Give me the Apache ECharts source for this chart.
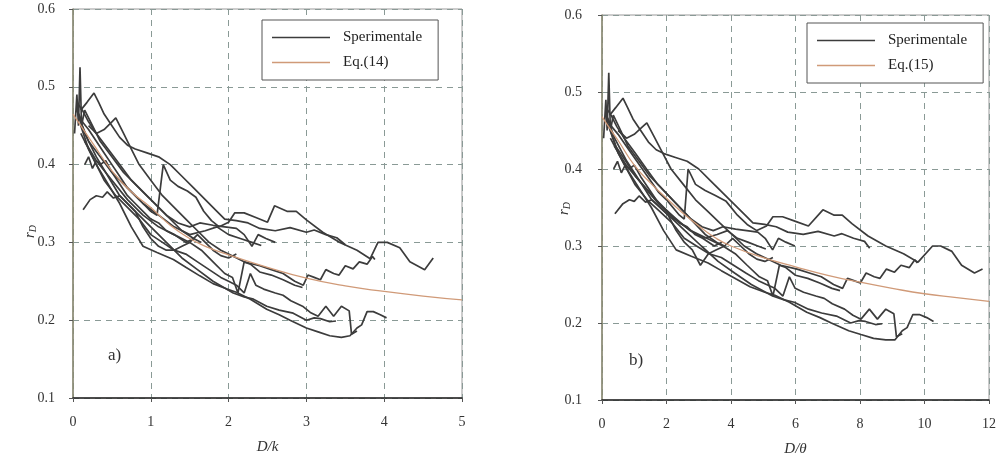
<!DOCTYPE html>
<html>
<head>
<meta charset="utf-8">
<script src="https://cdn.jsdelivr.net/npm/echarts@6/dist/echarts.min.js"></script>
<style>
html,body{margin:0;padding:0;background:#fff;}
#chart{width:1000px;height:464px;}
</style>
</head>
<body>
<div id="chart"></div>
<script>
// ---------- Panel a) : r_D vs D/k ----------
const xTicksA = [0, 1, 2, 3, 4, 5];
const yTicks = [0.1, 0.2, 0.3, 0.4, 0.5, 0.6];

const a1 = [[0.05,0.47],[0.12,0.455],[0.2,0.445],[0.3,0.43],[0.4,0.415],[0.5,0.4],[0.6,0.385],[0.7,0.37],[0.8,0.36],[0.9,0.35],[1.0,0.34],[1.08,0.335],[1.16,0.40],[1.25,0.38],[1.35,0.372],[1.47,0.366],[1.58,0.358],[1.68,0.34],[1.78,0.328],[1.88,0.32],[2.0,0.326],[2.08,0.338],[2.2,0.338],[2.35,0.332],[2.5,0.326],[2.59,0.347],[2.75,0.34],[2.87,0.34],[3.0,0.329],[3.21,0.313],[3.43,0.30],[3.65,0.29],[3.82,0.279],[3.92,0.30],[4.04,0.30],[4.2,0.293],[4.33,0.275],[4.52,0.265],[4.63,0.28]];
const a2 = [[0.1,0.47],[0.18,0.48],[0.27,0.492],[0.33,0.48],[0.4,0.465],[0.5,0.45],[0.6,0.435],[0.7,0.425],[0.8,0.42],[0.95,0.415],[1.1,0.41],[1.25,0.4],[1.4,0.385],[1.55,0.37],[1.7,0.355],[1.85,0.34],[1.95,0.33],[2.1,0.328],[2.25,0.325],[2.4,0.318],[2.6,0.315],[2.79,0.319],[3.0,0.313],[3.1,0.316],[3.25,0.31],[3.39,0.306],[3.5,0.297]];
const a3 = [[0.2,0.45],[0.3,0.44],[0.4,0.445],[0.5,0.455],[0.55,0.46],[0.65,0.44],[0.75,0.42],[0.85,0.40],[1.0,0.38],[1.15,0.36],[1.3,0.345],[1.45,0.33],[1.6,0.315],[1.75,0.30],[1.9,0.29],[2.0,0.285],[2.2,0.275],[2.4,0.27],[2.55,0.265],[2.7,0.26],[2.85,0.25],[2.96,0.245],[3.02,0.258],[3.1,0.255],[3.18,0.252],[3.25,0.265],[3.35,0.26],[3.42,0.258],[3.5,0.27],[3.6,0.266],[3.68,0.275],[3.78,0.272],[3.85,0.282],[3.88,0.278]];
const a4 = [[0.05,0.48],[0.12,0.47],[0.2,0.455],[0.3,0.44],[0.45,0.42],[0.6,0.40],[0.75,0.38],[0.9,0.365],[1.05,0.35],[1.2,0.335],[1.35,0.325],[1.5,0.32],[1.63,0.325],[1.8,0.322],[1.95,0.32],[2.1,0.318],[2.2,0.31],[2.3,0.295],[2.38,0.31],[2.48,0.305],[2.6,0.30]];
const a5 = [[0.08,0.46],[0.2,0.43],[0.35,0.41],[0.5,0.39],[0.7,0.37],[0.9,0.35],[1.1,0.335],[1.3,0.32],[1.5,0.31],[1.7,0.315],[1.85,0.32],[2.0,0.31],[2.15,0.305],[2.3,0.30],[2.42,0.296]];
const a6 = [[0.13,0.342],[0.22,0.355],[0.3,0.36],[0.38,0.358],[0.44,0.365],[0.52,0.357],[0.6,0.36],[0.7,0.35],[0.8,0.34],[0.9,0.32],[1.0,0.305],[1.1,0.295],[1.2,0.29],[1.3,0.29],[1.4,0.295],[1.5,0.30],[1.6,0.31],[1.7,0.30],[1.8,0.29],[1.9,0.283],[2.0,0.28],[2.1,0.285]];
const a7 = [[0.1,0.45],[0.2,0.42],[0.3,0.40],[0.45,0.375],[0.6,0.35],[0.75,0.32],[0.9,0.295],[1.08,0.287],[1.29,0.278],[1.45,0.268],[1.63,0.257],[1.8,0.247],[1.98,0.24],[2.1,0.236],[2.28,0.227],[2.49,0.214],[2.65,0.207],[2.79,0.20],[3.0,0.19],[3.15,0.185],[3.3,0.18],[3.45,0.178],[3.56,0.18],[3.65,0.19],[3.71,0.194],[3.78,0.211],[3.86,0.211],[3.95,0.207],[4.03,0.203]];
const a8 = [[0.05,0.47],[0.15,0.44],[0.3,0.41],[0.45,0.385],[0.6,0.36],[0.8,0.34],[1.0,0.32],[1.2,0.30],[1.4,0.28],[1.6,0.265],[1.8,0.25],[2.06,0.235],[2.2,0.23],[2.32,0.227],[2.49,0.218],[2.65,0.213],[2.83,0.209],[3.0,0.20],[3.1,0.203],[3.18,0.202],[3.3,0.198],[3.38,0.199]];
const a9 = [[0.1,0.44],[0.25,0.41],[0.4,0.38],[0.55,0.36],[0.7,0.345],[0.85,0.33],[1.0,0.31],[1.15,0.30],[1.3,0.29],[1.45,0.285],[1.6,0.275],[1.75,0.265],[1.9,0.255],[2.0,0.25],[2.1,0.245],[2.2,0.235],[2.28,0.26],[2.35,0.245],[2.45,0.24],[2.6,0.235],[2.7,0.232],[2.8,0.225],[2.95,0.218],[3.05,0.21],[3.15,0.205],[3.25,0.218],[3.35,0.205],[3.45,0.218],[3.55,0.212],[3.58,0.182],[3.65,0.186]];
const a10 = [[0.15,0.43],[0.3,0.405],[0.5,0.38],[0.7,0.355],[0.9,0.335],[1.1,0.32],[1.3,0.31],[1.5,0.30],[1.65,0.29],[1.8,0.275],[1.95,0.26],[2.05,0.255],[2.12,0.235],[2.2,0.275],[2.28,0.272],[2.4,0.262],[2.55,0.258],[2.7,0.252],[2.85,0.245],[2.95,0.242]];
const a11 = [[0.15,0.40],[0.2,0.41],[0.25,0.395],[0.3,0.405],[0.35,0.40],[0.42,0.405],[0.5,0.39],[0.6,0.375],[0.7,0.36],[0.8,0.35],[0.9,0.34],[1.0,0.33],[1.1,0.325],[1.2,0.315],[1.3,0.31],[1.45,0.30],[1.55,0.305]];
const a12 = [[0.02,0.44],[0.05,0.49],[0.07,0.45],[0.09,0.525],[0.11,0.45],[0.15,0.47],[0.25,0.45],[0.35,0.43],[0.5,0.41],[0.65,0.39],[0.8,0.375],[1.0,0.355],[1.2,0.335],[1.4,0.315],[1.55,0.305],[1.65,0.30]];
const eq14 = [[0,0.465],[0.1,0.45],[0.25,0.428],[0.5,0.392],[0.75,0.365],[1.0,0.345],[1.25,0.322],[1.5,0.305],[1.75,0.293],[2.0,0.284],[2.5,0.268],[3.0,0.254],[3.5,0.244],[4.0,0.237],[4.5,0.231],[5.0,0.226]];

// ---------- Panel b) : r_D vs D/theta ----------
const xTicksB = [0, 2, 4, 6, 8, 10, 12];

const b1 = [[0.13,0.47],[0.3,0.455],[0.5,0.445],[0.75,0.43],[1.0,0.415],[1.25,0.40],[1.5,0.385],[1.75,0.37],[2.0,0.36],[2.2,0.35],[2.4,0.34],[2.55,0.335],[2.67,0.40],[2.9,0.38],[3.2,0.372],[3.5,0.366],[3.85,0.358],[4.2,0.34],[4.5,0.328],[4.8,0.32],[5.1,0.326],[5.3,0.338],[5.6,0.338],[6.0,0.332],[6.4,0.326],[6.85,0.347],[7.2,0.34],[7.45,0.34],[7.75,0.329],[8.25,0.313],[8.8,0.30],[9.35,0.29],[9.8,0.279],[10.25,0.30],[10.5,0.30],[10.85,0.293],[11.15,0.275],[11.55,0.265],[11.8,0.27]];
const b2 = [[0.24,0.47],[0.43,0.48],[0.65,0.492],[0.79,0.48],[0.96,0.465],[1.2,0.45],[1.44,0.435],[1.68,0.425],[1.92,0.42],[2.28,0.415],[2.64,0.41],[3.0,0.40],[3.36,0.385],[3.72,0.37],[4.08,0.355],[4.44,0.34],[4.68,0.33],[5.04,0.328],[5.4,0.325],[5.76,0.318],[6.24,0.315],[6.7,0.319],[7.2,0.313],[7.44,0.316],[7.8,0.31],[8.14,0.306],[8.3,0.297]];
const b3 = [[0.5,0.45],[0.76,0.44],[1.0,0.445],[1.26,0.455],[1.39,0.46],[1.64,0.44],[1.89,0.42],[2.14,0.40],[2.52,0.38],[2.9,0.36],[3.28,0.345],[3.65,0.33],[4.03,0.315],[4.41,0.30],[4.79,0.29],[5.04,0.285],[5.54,0.275],[6.05,0.27],[6.43,0.265],[6.8,0.26],[7.18,0.25],[7.46,0.245],[7.61,0.258],[7.81,0.255],[8.01,0.252],[8.19,0.265],[8.44,0.26],[8.62,0.258],[8.82,0.27],[9.07,0.266],[9.27,0.275],[9.53,0.272],[9.7,0.282],[9.78,0.278]];
const b4 = [[0.12,0.48],[0.28,0.47],[0.46,0.455],[0.69,0.44],[1.04,0.42],[1.38,0.40],[1.73,0.38],[2.07,0.365],[2.42,0.35],[2.76,0.335],[3.1,0.325],[3.45,0.32],[3.75,0.325],[4.14,0.322],[4.49,0.32],[4.83,0.318],[5.06,0.31],[5.29,0.295],[5.47,0.31],[5.7,0.305],[5.98,0.30]];
const b5 = [[0.17,0.46],[0.42,0.43],[0.74,0.41],[1.05,0.39],[1.47,0.37],[1.89,0.35],[2.31,0.335],[2.73,0.32],[3.15,0.31],[3.57,0.315],[3.89,0.32],[4.2,0.31],[4.52,0.305],[4.83,0.30],[5.08,0.296]];
const b6 = [[0.4,0.342],[0.65,0.355],[0.85,0.36],[1.0,0.358],[1.15,0.365],[1.35,0.357],[1.55,0.36],[1.8,0.35],[2.05,0.34],[2.3,0.32],[2.55,0.305],[2.8,0.295],[3.05,0.275],[3.3,0.29],[3.55,0.295],[3.8,0.30],[4.05,0.31],[4.3,0.30],[4.55,0.29],[4.8,0.283],[5.05,0.28],[5.3,0.285]];
const b7 = [[0.26,0.45],[0.51,0.42],[0.77,0.40],[1.15,0.375],[1.53,0.35],[1.91,0.32],[2.3,0.295],[2.75,0.287],[3.29,0.278],[3.7,0.268],[4.16,0.257],[4.59,0.247],[5.05,0.24],[5.36,0.236],[5.81,0.227],[6.35,0.214],[6.76,0.207],[7.11,0.20],[7.65,0.19],[8.03,0.185],[8.42,0.18],[8.8,0.178],[9.08,0.178],[9.31,0.19],[9.46,0.194],[9.64,0.211],[9.84,0.211],[10.07,0.207],[10.28,0.202]];
const b8 = [[0.13,0.47],[0.39,0.44],[0.77,0.41],[1.16,0.385],[1.54,0.36],[2.06,0.34],[2.57,0.32],[3.08,0.30],[3.6,0.28],[4.11,0.265],[4.63,0.25],[5.29,0.235],[5.65,0.23],[5.96,0.227],[6.4,0.218],[6.81,0.213],[7.27,0.209],[7.71,0.20],[7.97,0.203],[8.17,0.202],[8.48,0.198],[8.69,0.199]];
const b9 = [[0.26,0.44],[0.64,0.41],[1.02,0.38],[1.4,0.36],[1.79,0.345],[2.17,0.33],[2.55,0.31],[2.93,0.30],[3.32,0.29],[3.7,0.285],[4.08,0.275],[4.46,0.265],[4.85,0.255],[5.1,0.25],[5.36,0.245],[5.61,0.235],[5.81,0.26],[5.99,0.245],[6.25,0.24],[6.63,0.235],[6.89,0.232],[7.14,0.225],[7.52,0.218],[7.78,0.21],[8.03,0.205],[8.29,0.218],[8.54,0.205],[8.8,0.218],[9.05,0.212],[9.13,0.182],[9.31,0.186]];
const b10 = [[0.38,0.43],[0.75,0.405],[1.25,0.38],[1.75,0.355],[2.25,0.335],[2.75,0.32],[3.25,0.31],[3.75,0.30],[4.13,0.29],[4.5,0.275],[4.88,0.26],[5.13,0.255],[5.3,0.235],[5.5,0.275],[5.7,0.272],[6.0,0.262],[6.38,0.258],[6.75,0.252],[7.13,0.245],[7.38,0.242]];
const b11 = [[0.36,0.40],[0.48,0.41],[0.6,0.395],[0.72,0.405],[0.84,0.40],[1.0,0.405],[1.2,0.39],[1.44,0.375],[1.68,0.36],[1.92,0.35],[2.16,0.34],[2.4,0.33],[2.64,0.325],[2.88,0.315],[3.12,0.31],[3.48,0.30],[3.72,0.305]];
const b12 = [[0.05,0.44],[0.12,0.49],[0.16,0.45],[0.21,0.525],[0.26,0.45],[0.35,0.47],[0.58,0.45],[0.8,0.43],[1.15,0.41],[1.5,0.39],[1.85,0.375],[2.3,0.355],[2.75,0.335],[3.2,0.315],[3.55,0.305],[3.8,0.30]];
const eq15 = [[0,0.468],[0.25,0.452],[0.5,0.437],[1.0,0.405],[1.5,0.382],[2.0,0.362],[2.5,0.343],[3.0,0.326],[3.5,0.311],[4.0,0.30],[5.0,0.285],[6.0,0.273],[7.0,0.262],[8.0,0.253],[9.0,0.245],[10.0,0.238],[11.0,0.233],[12.0,0.228]];

const expA = [a1,a2,a3,a4,a5,a6,a7,a8,a9,a10,a11,a12];
const expB = [b1,b2,b3,b4,b5,b6,b7,b8,b9,b10,b11,b12];

const EXP_COLOR = '#3c3c3c';
const EQ_COLOR = '#d09a78';
const SERIF = '"Liberation Serif", "DejaVu Serif", serif';

const chart = echarts.init(document.getElementById('chart'), null, {renderer:'canvas'});

function xAxisCfg(gi, max, interval, name) {
  return {
    type:'value', gridIndex:gi, min:0, max:max, interval:interval,
    name:name, nameLocation:'middle', nameGap:42,
    nameTextStyle:{fontFamily:SERIF, fontStyle:'italic', fontSize:15, color:'#333'},
    axisLine:{show:true, onZero:false, lineStyle:{color:'#222', width:1.5}},
    axisTick:{show:true, length:4, inside:false, lineStyle:{color:'#555'}},
    axisLabel:{fontFamily:SERIF, fontSize:14, color:'#333', margin:17},
    splitLine:{show:true, lineStyle:{color:'#8a9a96', type:[6,5], width:1}}
  };
}
function yAxisCfg(gi, margin) {
  return {
    type:'value', gridIndex:gi, min:0.1, max:0.6, interval:0.1,
    axisLine:{show:true, onZero:false, lineStyle:{color:'#8a8a70', width:1.5}},
    axisTick:{show:true, length:4, lineStyle:{color:'#555'}},
    axisLabel:{fontFamily:SERIF, fontSize:14, color:'#333', margin:margin, formatter:v=>v.toFixed(1)},
    splitLine:{show:true, lineStyle:{color:'#8a9a96', type:[6,5], width:1}}
  };
}

const series = [];
expA.forEach(d => series.push({type:'line', name:'Sperimentale', xAxisIndex:0, yAxisIndex:0, data:d,
  symbol:'none', lineStyle:{color:EXP_COLOR, width:1.7}, itemStyle:{color:EXP_COLOR}, silent:true, z:3}));
series.push({type:'line', name:'Eq.(14)', xAxisIndex:0, yAxisIndex:0, data:eq14, smooth:true,
  symbol:'none', lineStyle:{color:EQ_COLOR, width:1.3}, itemStyle:{color:EQ_COLOR}, silent:true, z:4});
expB.forEach(d => series.push({type:'line', name:'Sperimentale', xAxisIndex:1, yAxisIndex:1, data:d,
  symbol:'none', lineStyle:{color:EXP_COLOR, width:1.7}, itemStyle:{color:EXP_COLOR}, silent:true, z:3}));
series.push({type:'line', name:'Eq.(15)', xAxisIndex:1, yAxisIndex:1, data:eq15, smooth:true,
  symbol:'none', lineStyle:{color:EQ_COLOR, width:1.3}, itemStyle:{color:EQ_COLOR}, silent:true, z:4});

function legendCfg(left, top, eqName) {
  return {
    left:left, top:top, orient:'vertical', data:['Sperimentale', eqName],
    icon:'rect', itemWidth:58, itemHeight:1.5, itemGap:10,
    borderColor:'#555', borderWidth:1, padding:[10,16,10,10], backgroundColor:'#fff',
    selectedMode:false,
    textStyle:{fontFamily:SERIF, fontSize:15, color:'#222', padding:[0,0,0,8]}
  };
}

const option = {
  animation:false,
  backgroundColor:'#fff',
  grid:[
    {left:73, top:9, width:389, height:389, show:true, borderColor:'#999', borderWidth:1},
    {left:602, top:15, width:387, height:385, show:true, borderColor:'#999', borderWidth:1}
  ],
  xAxis:[xAxisCfg(0,5,1,'D/k'), xAxisCfg(1,12,2,'D/θ')],
  yAxis:[yAxisCfg(0,18), yAxisCfg(1,20)],
  legend:[legendCfg(262,20,'Eq.(14)'), legendCfg(807,23,'Eq.(15)')],
  series:series,
  graphic:[
    {type:'text', left:108, top:347, style:{text:'a)', fontFamily:SERIF, fontSize:17, fill:'#333'}},
    {type:'text', left:629, top:352, style:{text:'b)', fontFamily:SERIF, fontSize:17, fill:'#333'}},
    {type:'text', x:22, y:238, rotation:Math.PI/2, style:{text:'{r|r}{d|D}',
      rich:{r:{fontFamily:SERIF, fontStyle:'italic', fontSize:15, fill:'#333', color:'#333'},
            d:{fontFamily:SERIF, fontStyle:'italic', fontSize:10, fill:'#333', color:'#333', verticalAlign:'bottom', padding:[6,0,0,0]}}}},
    {type:'text', x:556, y:215, rotation:Math.PI/2, style:{text:'{r|r}{d|D}',
      rich:{r:{fontFamily:SERIF, fontStyle:'italic', fontSize:15, fill:'#333', color:'#333'},
            d:{fontFamily:SERIF, fontStyle:'italic', fontSize:10, fill:'#333', color:'#333', verticalAlign:'bottom', padding:[6,0,0,0]}}}}
  ]
};
chart.setOption(option);
</script>
</body>
</html>
